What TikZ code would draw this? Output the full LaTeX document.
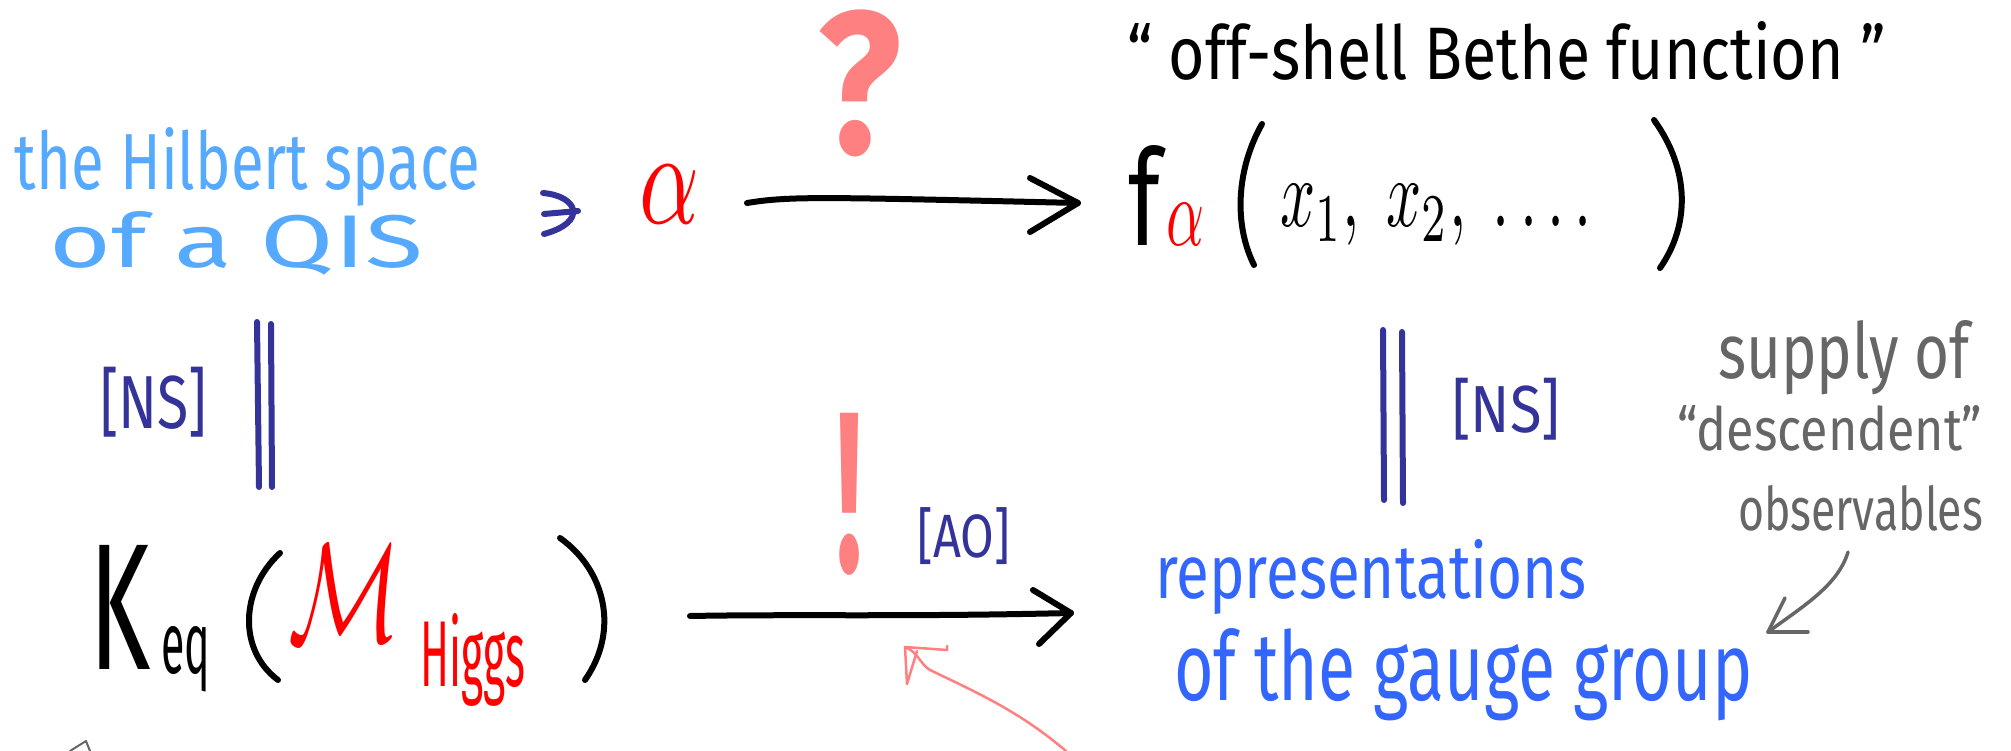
\documentclass[tikz,border=0pt]{standalone}
\usepackage{fontspec}
\setmainfont{Fira Sans}
\usepackage{graphicx}
\usetikzlibrary{arrows.meta}
\definecolor{lblue}{HTML}{55AAFF}
\definecolor{dblue}{HTML}{333399}
\definecolor{hred}{HTML}{FF0000}
\definecolor{qpink}{HTML}{FF8080}
\definecolor{rblue}{HTML}{3366FF}
\definecolor{hgray}{HTML}{666666}
\newcommand{\fitxt}[3]{\resizebox{#1pt}{#2pt}{#3}}
\newcommand{\fitall}[3]{\resizebox*{#1pt}{#2pt}{#3}}
\tikzset{
  txt/.style={inner sep=0pt, outer sep=0pt, anchor=base west},
  sym/.style={inner sep=0pt, outer sep=0pt, anchor=center},
  boxnw/.style={inner sep=0pt, outer sep=0pt, anchor=north west},
  pen/.style={line width=6pt, line cap=round, line join=round},
  dpen/.style={draw=dblue, line width=6pt, line cap=round, line join=round},
  gpen/.style={draw=hgray, line width=3.5pt, line cap=round, line join=round},
  ppen/.style={draw=qpink, line width=2.5pt, line cap=round, line join=round},
}
\begin{document}
\begin{tikzpicture}[x=1pt, y=-1pt]
\fill[white] (0,0) rectangle (2011,751);
\useasboundingbox (0,0) rectangle (2011,751);

% ---------- top row ----------
\node[txt, lblue] (hilb) at (15,190) {\fitxt{465}{62}{the Hilbert space}};
\node[txt, lblue] (qis) at (49,268) {\fitxt{374}{56}{of a QIS}};
% the element sign, drawn by hand
\coordinate (ni1) at (543,193);
\coordinate (ni2) at (544,234);
\draw[dpen] (ni1) .. controls (578,196) and (588,222) .. (ni2);
\draw[dpen] (544,214) -- (578,211);
\node[sym, hred] (alpha) at (669,194) {\fitall{60}{58}{$\alpha$}};
\node[sym, qpink] (qmark) at (860,83) {\fitall{84}{147}{\bfseries ?}};

\coordinate (ta1) at (747,203);
\coordinate (ta2) at (1078,203);
\draw[pen] (ta1) .. controls (790,196) and (820,197) .. (ta2);
\draw[pen] (ta2) ++(-48,-25) -- (ta2) -- ++(-48,29);

\node[txt] (bethe) at (1127,80) {\fitxt{759}{58}{“ off-shell Bethe function ”}};
\node[txt] (f) at (1128,246) {\fitxt{32}{100}{f}};
\node[sym, hred] (fa) at (1185,224) {\fitall{38}{42}{$\alpha$}};
\draw[pen] (1262,124) .. controls (1236,170) and (1234,225) .. (1254,265);
\node[txt] (args) at (1280,227) {\fitxt{312}{42}{$x_{1},\ x_{2},\ \ldots.$}};
\draw[pen] (1654,120) .. controls (1690,170) and (1690,225) .. (1660,268);

% ---------- vertical equalities ----------
\coordinate (l1t) at (257,322); \coordinate (l1b) at (259,487);
\coordinate (l2t) at (271,324); \coordinate (l2b) at (272,487);
\draw[dpen] (l1t) -- (l1b);
\draw[dpen] (l2t) -- (l2b);
\node[boxnw, dblue] (nsl) at (100,367) {\fitall{107}{70}{[NS]}};

\coordinate (r1t) at (1383,330); \coordinate (r1b) at (1384,500);
\coordinate (r2t) at (1402,332); \coordinate (r2b) at (1403,503);
\draw[dpen] (r1t) -- (r1b);
\draw[dpen] (r2t) -- (r2b);
\node[boxnw, dblue] (nsr) at (1452,378) {\fitall{108}{62}{[NS]}};

% ---------- bottom row ----------
\node[txt] (K) at (89,669) {\fitxt{61}{124}{K}};
\node[txt] (eq) at (161,673) {\fitxt{49}{47}{eq}};
\draw[pen] (280,553) .. controls (240,590) and (238,650) .. (278,680);
\node[txt, hred] (M) at (288,641) {\fitxt{112}{96}{$\mathcal{M}$}};
\node[txt, hred] (higgs) at (420,686) {\fitxt{105}{73}{Higgs}};
\draw[pen] (560,538) .. controls (605,570) and (620,630) .. (585,680);

\node[sym, qpink] (excl) at (849,494) {\fitall{26}{162}{\bfseries !}};
\node[boxnw, dblue] (ao) at (917,508) {\fitall{93}{57}{[AO]}};

\coordinate (ba1) at (690,616);
\coordinate (ba2) at (1071,613);
\draw[pen] (ba1) .. controls (800,614) and (900,617) .. (ba2);
\draw[pen] (ba2) ++(-38,-23) -- (ba2) -- ++(-32,31);

\node[txt, rblue] (rep) at (1155,598) {\fitxt{431}{59}{representations}};
\node[txt, rblue] (gauge) at (1174,700) {\fitxt{578}{72}{of the gauge group}};

% ---------- annotations ----------
\node[txt, hgray] (sup) at (1718,378) {\fitxt{252}{58}{supply of}};
\node[txt, hgray] (desc) at (1677,450) {\fitxt{305}{45}{“descendent”}};
\node[txt, hgray] (obs) at (1738,530) {\fitxt{245}{45}{observables}};
\coordinate (ga1) at (1848,552);
\coordinate (ga2) at (1768,632);
\draw[gpen] (ga1) .. controls (1838,585) and (1805,605) .. (ga2);
\draw[gpen] (ga2) -- ++(17,-34);
\draw[gpen] (ga2) -- ++(40,0);

\coordinate (pp1) at (1066,751);
\coordinate (pp2) at (905,647);
\draw[ppen] (pp1) .. controls (1020,712) and (980,694) .. (930,670) .. controls (920,664) and (918,652) .. (pp2);
\draw[ppen] (pp2) -- ++(2,37) -- ++(10,-33);
\draw[ppen] (pp2) -- ++(42,3) -- ++(0,-4);

\draw[gpen, line width=2pt] (70,751) -- (86,741) -- (90,751);
\end{tikzpicture}
\end{document}
